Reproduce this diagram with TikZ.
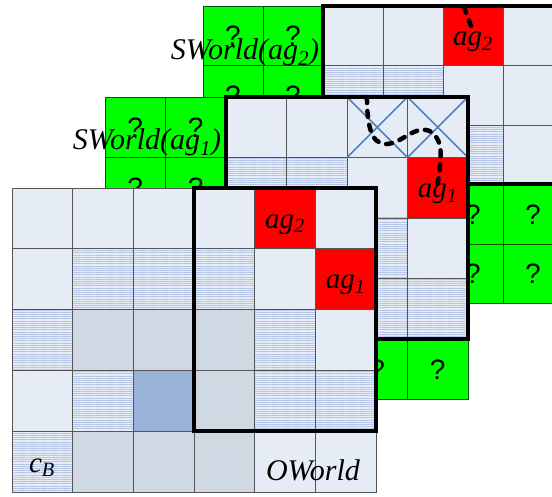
\documentclass[tikz,border=0pt]{standalone}
\usepackage{fontspec}
\setmainfont{Liberation Serif}
\newfontfamily\qfont{Liberation Sans}
\usetikzlibrary{patterns.meta}
\definecolor{cellblue}{RGB}{230,236,246}
\definecolor{hatchline}{RGB}{178,195,228}
\definecolor{crossbase}{RGB}{212,219,230}
\definecolor{crossline}{RGB}{190,198,214}
\definecolor{deepcell}{RGB}{152,178,216}
\definecolor{gridgray}{RGB}{85,85,85}
\definecolor{unkgreen}{RGB}{0,255,0}
\definecolor{agentred}{RGB}{255,0,0}
\definecolor{xblue}{RGB}{79,129,189}

\tikzset{
  plain/.style={fill=cellblue},
  hatch/.style={preaction={fill=cellblue}, pattern={Lines[angle=0,distance=2.2pt,line width=0.6pt]}, pattern color=hatchline},
  cross/.style={preaction={fill=crossbase}, pattern={Dots[distance=2pt,radius=0.5pt]}, pattern color=crossline},
  deep/.style={fill=deepcell},
  agentcell/.style={fill=agentred},
  unknown/.style={fill=unkgreen, draw=green!35!black, line width=0.9pt},
  gridline/.style={draw=gridgray, line width=0.9pt},
  window/.style={draw=black, line width=4pt},
  qmark/.style={font=\qfont\fontsize{28}{30}\selectfont, inner sep=0pt},
  agentlabel/.style={font=\itshape\fontsize{29}{31}\selectfont, inner sep=0pt, anchor=base},
  worldlabel/.style={font=\itshape\fontsize{30}{32}\selectfont, inner sep=0pt, anchor=base},
  trail/.style={draw=black, line width=4.5pt, dash pattern=on 6pt off 8pt, line cap=round},
  blocked/.style={draw=xblue, line width=1.6pt}
}

\begin{document}
\begin{tikzpicture}[x=1pt, y=-1pt]
  \useasboundingbox (0,0) rectangle (552,497);
  \fill[white] (0,0) rectangle (552,497);
  \clip (0,0) rectangle (552,497);

  % SWorld(ag2), back layer
  \begin{scope}[shift={(203pt,-6pt)}, x=60pt, y=-59.5pt]
    \foreach \i in {2,...,5} \foreach \j in {0,1,2} \path[plain] (\i,\j) rectangle ++(1,1);
    \foreach \i/\j in {2/1,3/1,4/2} \path[hatch] (\i,\j) rectangle ++(1,1);
    \foreach \i/\j in {2/2,3/2} \path[cross] (\i,\j) rectangle ++(1,1);
    \path[agentcell] (4,0) rectangle ++(1,1);
    \foreach \i in {2,...,5} \foreach \j in {0,1,2} \draw[gridline] (\i,\j) rectangle ++(1,1);
    % unknown cells
    \foreach \i/\j in {0/0,1/0,0/1,1/1,0/2,1/2,0/3,1/3,2/3,3/3,4/3,5/3,0/4,1/4,2/4,3/4,4/4,5/4} {
      \draw[unknown] (\i,\j) rectangle ++(1,1);
      \node[qmark] at (\i+0.5,\j+0.5) {?};
    }
    \draw[window] (2,0) rectangle (6,3);
    \node[agentlabel] (ag2top) at (4.5,0.66) {ag\textsubscript{2}};
    \coordinate (toptrail) at (4.35,0.02);
    \draw[trail] (toptrail) -- (ag2top.north);
  \end{scope}
  \node[worldlabel] (sw2) at (245,60) {SWorld(ag\textsubscript{2})};

  % SWorld(ag1), middle layer
  \begin{scope}[shift={(105pt,-97pt)}, x=60.5pt, y=-60.5pt]
    \foreach \i in {2,...,5} \foreach \j in {0,...,3} \path[plain] (\i,\j) rectangle ++(1,1);
    \foreach \i/\j in {2/1,3/1,4/2,4/3,5/3} \path[hatch] (\i,\j) rectangle ++(1,1);
    \foreach \i/\j in {2/2,3/2,3/3} \path[cross] (\i,\j) rectangle ++(1,1);
    \path[deep] (2,3) rectangle ++(1,1);
    \path[agentcell] (5,1) rectangle ++(1,1);
    \foreach \i in {2,...,5} \foreach \j in {0,...,3} \draw[gridline] (\i,\j) rectangle ++(1,1);
    \foreach \i in {4,5} \draw[blocked] (\i,0) -- ++(1,1) (\i+1,0) -- ++(-1,1);
    % unknown cells
    \foreach \i/\j in {0/0,1/0,0/1,1/1,0/2,1/2,0/3,1/3,0/4,1/4,2/4,3/4,4/4,5/4} {
      \draw[unknown] (\i,\j) rectangle ++(1,1);
      \node[qmark] at (\i+0.5,\j+0.5) {?};
    }
    \draw[window] (2,0) rectangle (6,4);
    \node[agentlabel] (ag1mid) at (5.5,1.66) {ag\textsubscript{1}};
    \coordinate (midtrail) at (4.33,0);
    \draw[trail] (midtrail) .. controls (4.33,0.6) and (4.45,0.85) .. (4.75,0.76)
      .. controls (5.0,0.68) and (5.2,0.42) .. (5.42,0.6)
      .. controls (5.58,0.75) and (5.57,0.95) .. (ag1mid.north);
  \end{scope}
  \node[worldlabel] (sw1) at (147,150) {SWorld(ag\textsubscript{1})};

  % OWorld, front layer
  \begin{scope}[shift={(12pt,-188pt)}, x=60.67pt, y=-60.8pt]
    \foreach \i in {0,...,5} \foreach \j in {0,...,4} \path[plain] (\i,\j) rectangle ++(1,1);
    \foreach \i/\j in {1/1,2/1,3/1,0/2,4/2,1/3,4/3,5/3,0/4} \path[hatch] (\i,\j) rectangle ++(1,1);
    \foreach \i/\j in {1/2,2/2,3/2,3/3,1/4,2/4,3/4} \path[cross] (\i,\j) rectangle ++(1,1);
    \path[deep] (2,3) rectangle ++(1,1);
    \path[agentcell] (4,0) rectangle ++(1,1);
    \path[agentcell] (5,1) rectangle ++(1,1);
    \foreach \i in {0,...,5} \foreach \j in {0,...,4} \draw[gridline] (\i,\j) rectangle ++(1,1);
    \draw[window] (3,0) rectangle (6,4);
    \node[agentlabel] (ag2front) at (4.5,0.66) {ag\textsubscript{2}};
    \node[agentlabel] (ag1front) at (5.5,1.66) {ag\textsubscript{1}};
  \end{scope}
  \node[agentlabel] (cb) at (42,472) {c\textsubscript{B}};
  \node[worldlabel] (ow) at (313,480) {OWorld};
\end{tikzpicture}
\end{document}
